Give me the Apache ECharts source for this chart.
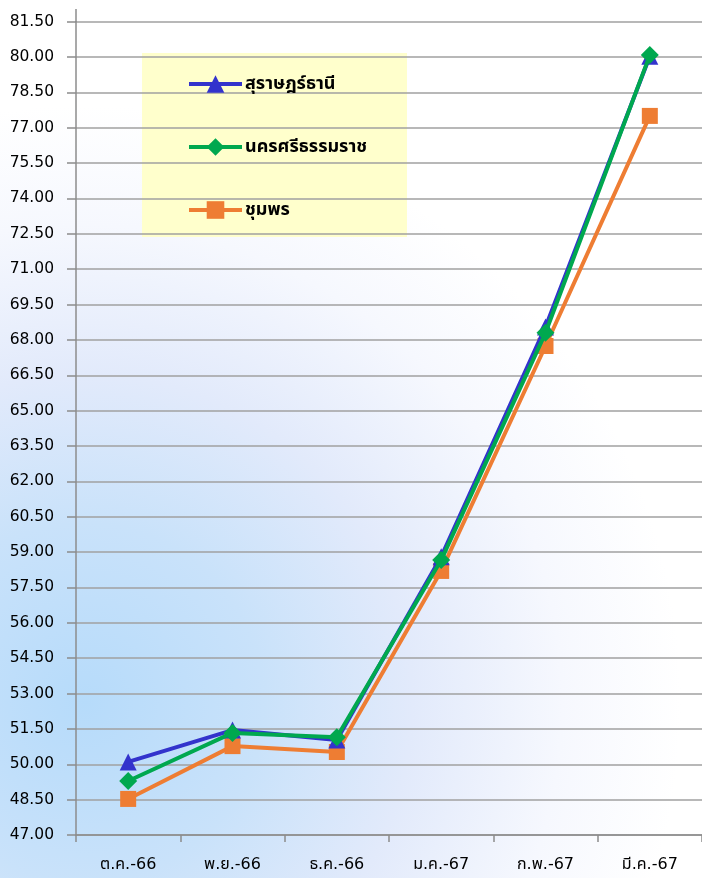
<!DOCTYPE html>
<html>
<head>
<meta charset="utf-8">
<script src="https://cdn.jsdelivr.net/npm/echarts@6/dist/echarts.min.js"></script>
<style>
html,body{margin:0;padding:0;background:#fff;}
#c{width:702px;height:878px;}
</style>
</head>
<body>
<div id="c"></div>
<script>
var categories = ['ต.ค.-66', 'พ.ย.-66', 'ธ.ค.-66', 'ม.ค.-67', 'ก.พ.-67', 'มี.ค.-67'];
var suratValues = [50.10, 51.45, 51.03, 58.80, 68.55, 80.03];
var nakhonValues = [49.29, 51.33, 51.15, 58.66, 68.30, 80.08];
var chumphonValues = [48.53, 50.77, 50.52, 58.20, 67.74, 77.50];
var seriesNames = ['สุราษฎร์ธานี', 'นครศรีธรรมราช', 'ชุมพร'];

var chart = echarts.init(document.getElementById('c'));
var fontFam = "'DejaVu Sans', Tahoma, 'Noto Sans Thai', sans-serif";
var option = {
  backgroundColor: {
    type: 'radial', x: 0.12, y: 0.8, r: 0.85,
    colorStops: [
      {offset: 0, color: '#b6dbfa'},
      {offset: 0.3, color: '#c9e2fa'},
      {offset: 0.55, color: '#e2eafb'},
      {offset: 0.8, color: '#f6f8fe'},
      {offset: 1, color: '#ffffff'}
    ]
  },
  animation: false,
  graphic: [
    {type: 'rect', z: 0, shape: {x: 142, y: 53, width: 265, height: 184}, style: {fill: '#ffffcc'}},
    {type: 'line', z: 0, shape: {x1: 76, y1: 9, x2: 76, y2: 22}, style: {stroke: '#8c8c8c', lineWidth: 1.5}}
  ],
  grid: {left: 76, right: -2, top: 21.6, bottom: 43, containLabel: false},
  legend: {
    orient: 'vertical', left: 187, top: 75, padding: 0,
    itemWidth: 53, itemHeight: 22, itemGap: 45,
    lineStyle: {width: 4},
    textStyle: {fontFamily: fontFam, fontSize: 18, fontWeight: 'bold', color: '#000', padding: [0, 0, 0, -2]},
    data: seriesNames
  },
  xAxis: {
    type: 'category', data: categories, boundaryGap: true,
    axisLine: {lineStyle: {color: '#8c8c8c', width: 1.5}},
    axisTick: {show: true, length: 7, lineStyle: {color: '#8c8c8c', width: 1.5}},
    axisLabel: {fontFamily: fontFam, fontSize: 16, color: '#000', margin: 22}
  },
  yAxis: {
    type: 'value', min: 47, max: 81.5, interval: 1.5,
    axisLine: {show: true, lineStyle: {color: '#8c8c8c', width: 1.5}},
    axisTick: {show: true, length: 9, lineStyle: {color: '#8c8c8c', width: 1.5}},
    axisLabel: {fontFamily: fontFam, fontSize: 15.5, color: '#000', margin: 22,
      formatter: function (v) { return v.toFixed(2); }},
    splitLine: {lineStyle: {color: '#a0a0a0', width: 1.5}}
  },
  series: [
    {name: seriesNames[0], type: 'line', data: suratValues, z: 3,
      symbol: 'triangle', symbolSize: 17,
      lineStyle: {color: '#3333cc', width: 4}, itemStyle: {color: '#3333cc'}},
    {name: seriesNames[1], type: 'line', data: nakhonValues, z: 4,
      symbol: 'diamond', symbolSize: 18,
      lineStyle: {color: '#00a84f', width: 4}, itemStyle: {color: '#00a84f'}},
    {name: seriesNames[2], type: 'line', data: chumphonValues, z: 2,
      symbol: 'rect', symbolSize: 16,
      lineStyle: {color: '#ee7d33', width: 4}, itemStyle: {color: '#ee7d33'}}
  ]
};
chart.setOption(option);
</script>
</body>
</html>
